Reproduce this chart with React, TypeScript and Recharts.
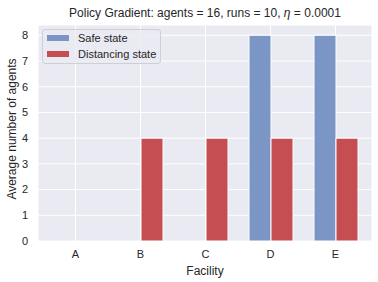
import { BarChart, Bar, XAxis, YAxis, CartesianGrid, Legend } from 'recharts';

const facilities = ['A', 'B', 'C', 'D', 'E'];
const safeState = [0, 0, 0, 8, 8];
const distancingState = [0, 4, 4, 4, 4];
const yTicks = [0, 1, 2, 3, 4, 5, 6, 7, 8];

const data = facilities.map((f, i) => ({
  facility: f,
  safe: safeState[i],
  distancing: distancingState[i],
}));

const FONT = '"Liberation Sans", Arial, sans-serif';
const INK = '#262626';

function LegendBox() {
  const items = [
    { label: 'Safe state', color: '#7b96c4' },
    { label: 'Distancing state', color: '#c44e52' },
  ];
  return (
    <div
      style={{
        position: 'relative',
        width: 117,
        height: 33,
        border: '1px solid #cfcfd6',
        borderRadius: 3,
        background: 'rgba(234,234,242,0.8)',
        fontFamily: FONT,
        fontSize: 11,
        color: INK,
      }}
    >
      {items.map((it, i) => (
        <div key={it.label} style={{ position: 'absolute', left: 4, top: 1 + i * 16, height: 14, display: 'flex', alignItems: 'center', whiteSpace: 'nowrap' }}>
          <span style={{ display: 'inline-block', width: 22, height: 6, background: it.color, marginRight: 9 }} />
          <span>{it.label}</span>
        </div>
      ))}
    </div>
  );
}

export default function App() {
  return (
    <div style={{ position: 'absolute', left: 0, top: 0, width: 378, height: 282, background: '#fff' }}>
      <div
        style={{
          position: 'absolute',
          left: 38,
          width: 334,
          top: 6,
          textAlign: 'center',
          fontFamily: FONT,
          fontSize: 12,
          color: INK,
          zIndex: 2,
        }}
      >
        Policy Gradient: agents = 16, runs = 10, <i>η</i> = 0.0001
      </div>
      <BarChart
        width={378}
        height={282}
        data={data}
        margin={{ top: 25, right: 6, bottom: 0, left: 0 }}
        barGap={0}
        barSize={22}
      >
        <CartesianGrid fill="#EAEAF2" stroke="#ffffff" strokeWidth={1} />
        <XAxis
          dataKey="facility"
          height={41}
          padding={{ left: 5, right: 4 }}
          axisLine={false}
          tickLine={false}
          tickSize={0}
          tickMargin={9}
          tick={{ fill: INK, fontSize: 11, fontFamily: FONT }}
          label={{ value: 'Facility', position: 'insideBottom', offset: 7, fill: INK, fontSize: 12, fontFamily: FONT }}
        />
        <YAxis
          width={38}
          domain={[0, 8.4]}
          ticks={yTicks}
          allowDataOverflow
          axisLine={false}
          tickLine={false}
          tickSize={0}
          tickMargin={10}
          tick={{ fill: INK, fontSize: 11, fontFamily: FONT }}
          label={{ value: 'Average number of agents', angle: -90, position: 'insideLeft', offset: 12, dy: -4, fill: INK, fontSize: 12, fontFamily: FONT, style: { textAnchor: 'middle' } }}
        />
        <Legend
          layout="vertical"
          align="center"
          verticalAlign="middle"
          wrapperStyle={{ left: 42, top: 29, width: 'auto', height: 'auto' }}
          content={() => <LegendBox />}
        />
        <Bar dataKey="safe" name="Safe state" fill="#7b96c4" stroke="#ffffff" strokeWidth={1} isAnimationActive={false} />
        <Bar dataKey="distancing" name="Distancing state" fill="#c44e52" stroke="#ffffff" strokeWidth={1} isAnimationActive={false} />
      </BarChart>
    </div>
  );
}
